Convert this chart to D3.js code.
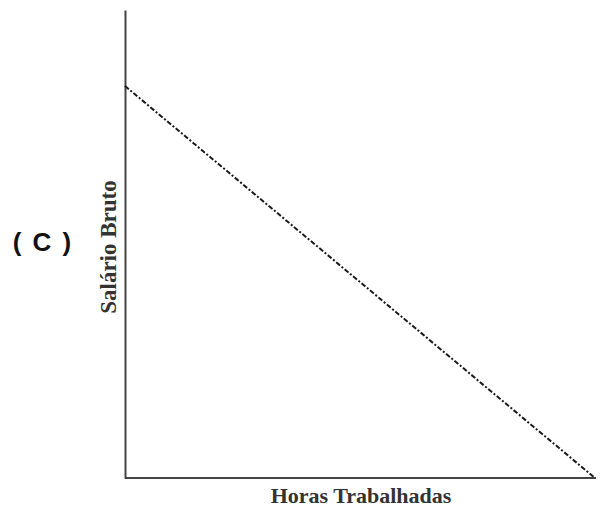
<!DOCTYPE html>
<html>
<head>
<meta charset="utf-8">
<script src="https://cdn.jsdelivr.net/npm/d3@7"></script>
<style>
  body { margin: 0; background: #fff; }
</style>
</head>
<body>
<div id="chart"></div>
<script>
// dados
const hours = [0, 10]
const salary = [10, 0]
const panelLabel = "( C )"
const xTitle = "Horas Trabalhadas"
const yTitle = "Salário Bruto"

const width = 600
const height = 508

const svg = d3.select("#chart").append("svg")
    .attr("width", width)
    .attr("height", height)

const x = d3.scaleLinear().domain([0, 10]).range([125, 595])
const y = d3.scaleLinear().domain([0, 11.94]).range([478, 10])

// eixos (sem ticks)
svg.append("g")
    .attr("transform", `translate(0,${y(0)})`)
    .call(d3.axisBottom(x).ticks(0).tickSizeOuter(0))
    .select(".domain")
    .attr("d", `M${x(0)},0H${x(10) + 1}`)
    .attr("stroke", "#444")
    .attr("stroke-width", 2)

svg.append("g")
    .attr("transform", `translate(${x(0)},0)`)
    .call(d3.axisLeft(y).ticks(0).tickSizeOuter(0))
    .select(".domain")
    .attr("stroke", "#444")
    .attr("stroke-width", 2)

const pts = hours.map((h, i) => [h, salary[i]])
const line = d3.line().x(d => x(d[0])).y(d => y(d[1]))

svg.append("path")
    .datum(pts)
    .attr("d", line)
    .attr("fill", "none")
    .attr("stroke", "#1a1a1a")
    .attr("stroke-width", 2)
    .attr("stroke-dasharray", "5,2,2,2")

svg.append("text")
    .attr("x", 361)
    .attr("y", 503)
    .attr("text-anchor", "middle")
    .style("font-family", "'Liberation Serif', 'Times New Roman', serif")
    .style("font-weight", "bold")
    .style("font-size", "22px")
    .attr("fill", "#333")
    .text(xTitle)

svg.append("text")
    .attr("transform", "translate(116,247) rotate(-90)")
    .attr("text-anchor", "middle")
    .style("font-family", "'Liberation Serif', 'Times New Roman', serif")
    .style("font-weight", "bold")
    .style("font-size", "23px")
    .attr("fill", "#333")
    .text(yTitle)

svg.append("text")
    .attr("x", 43)
    .attr("y", 251)
    .attr("text-anchor", "middle")
    .style("font-family", "'Liberation Sans', Arial, sans-serif")
    .style("font-weight", "bold")
    .style("font-size", "26px")
    .style("letter-spacing", "2px")
    .attr("fill", "#111")
    .text(panelLabel)
</script>
</body>
</html>
